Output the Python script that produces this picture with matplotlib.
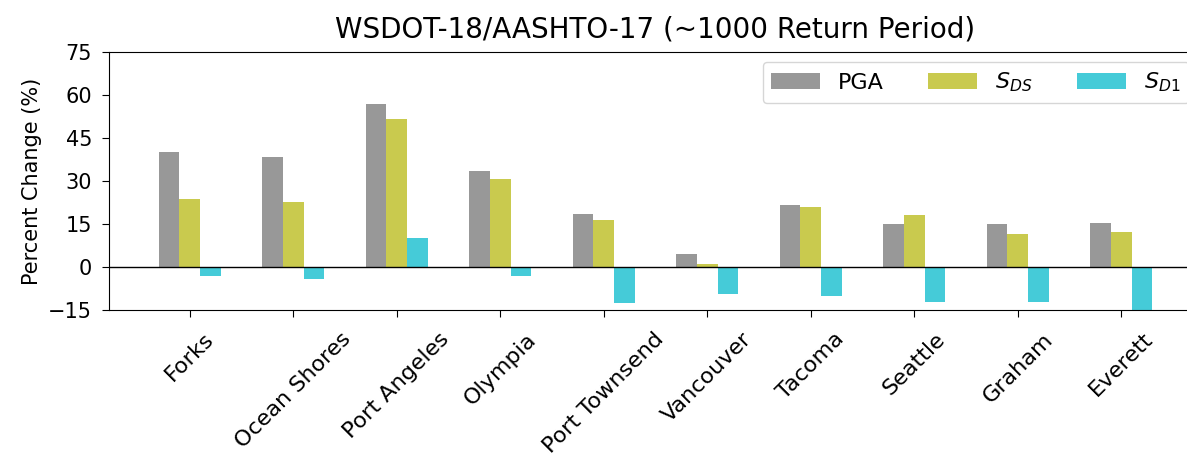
import matplotlib
matplotlib.use("Agg")
import matplotlib.pyplot as plt
import numpy as np

cities = ["Forks", "Ocean Shores", "Port Angeles", "Olympia", "Port Townsend",
          "Vancouver", "Tacoma", "Seattle", "Graham", "Everett"]
pga = [40.1, 38.4, 56.7, 33.4, 18.6, 4.7, 21.8, 15.1, 15.1, 15.3]
sds = [23.6, 22.6, 51.5, 30.8, 16.5, 0.9, 20.9, 18.0, 11.6, 12.1]
sd1 = [-3.0, -4.2, 10.2, -3.0, -12.6, -9.3, -10.2, -12.2, -12.2, -15.3]
yticks = [-15, 0, 15, 30, 45, 60, 75]

plt.rcParams['font.family'] = ['DejaVu Sans']
plt.rcParams['font.size'] = 15

fig = plt.figure(figsize=(11.87, 4.57), dpi=100)
ax = fig.add_axes([109/1187, 147/457, (1202-109)/1187, (310-52)/457])

x = np.arange(len(cities))
w = 0.2
ax.bar(x - w, pga, w, color='tab:gray', alpha=0.8, label='PGA')
ax.bar(x, sds, w, color='tab:olive', alpha=0.8, label='$S_{DS}$')
ax.bar(x + w, sd1, w, color='tab:cyan', alpha=0.8, label='$S_{D1}$')
ax.axhline(0, color='black', linewidth=1)

ax.set_ylim(-15, 75)
ax.set_yticks(yticks)
ax.set_xticks(x)
ax.set_xticklabels(cities, rotation=45, fontsize=16)
ax.tick_params(axis='y', length=4.8, pad=7.4)
ax.tick_params(axis='x', length=4.8, pad=9)
ax.set_ylabel('Percent Change (%)')
ax.set_title('WSDOT-18/AASHTO-17 (~1000 Return Period)', pad=10.5, fontsize=20)
ax.legend(loc='upper right', ncol=3, fontsize=16, handlelength=2.2,
          borderaxespad=0, bbox_to_anchor=(1189/1187, (457-62)/457),
          bbox_transform=fig.transFigure)

fig.savefig('out.png', dpi=100)
